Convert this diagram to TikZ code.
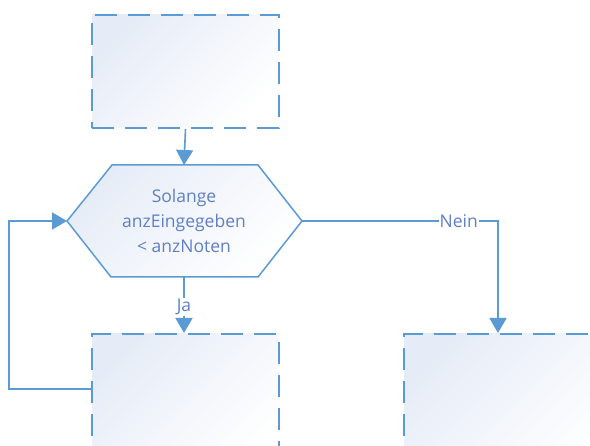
\documentclass[tikz,border=0pt]{standalone}
\usepackage{fontspec}
\setmainfont{Open Sans}
\usetikzlibrary{arrows.meta}
\definecolor{lineblue}{HTML}{5B9BD5}
\definecolor{textblue}{HTML}{5F7FC6}
\definecolor{fillblue}{HTML}{E6ECF7}
\tikzset{
  dashbox/.style={draw=lineblue, line width=2pt, dash pattern=on 22pt off 11pt,
    top color=fillblue, bottom color=white, shading angle=45,
    minimum width=187pt, minimum height=113pt, inner sep=0pt},
  conn/.style={draw=lineblue, line width=1.6pt},
  arr/.style={conn, -{Triangle[width=17pt,length=15pt]}},
  lbl/.style={fill=white, text=textblue, font=\fontsize{17.5}{20}\selectfont, inner sep=1pt},
  hextext/.style={text=textblue, font=\fontsize{17.5}{25}\selectfont, align=center}
}
\begin{document}
\begin{tikzpicture}[x=1pt,y=-1pt]
\useasboundingbox (0,0) rectangle (590,446);
\fill[white] (0,0) rectangle (590,446);
\clip (0,0) rectangle (590,446);
% top box
\node[dashbox, anchor=north west] (top) at (91,14) {};
% hexagon
\coordinate (hexL) at (67,221);
\coordinate (hexR) at (302,221);
\coordinate (hexT) at (184,165);
\coordinate (hexB) at (184,277);
\shade[top color=fillblue, bottom color=white, shading angle=45]
  (hexL) -- (112,165) -- (258,165) -- (hexR) -- (258,277) -- (111,277) -- cycle;
\draw[lineblue, line width=1.5pt, line join=miter]
  (hexL) -- (112,165) -- (258,165) -- (hexR) -- (258,277) -- (111,277) -- cycle;
\node[hextext] (cond) at (184,221) {Solange\\anzEingegeben\\< anzNoten};
% bottom left box
\node[dashbox, anchor=north west, minimum height=140pt] (bl) at (91,333) {};
% bottom right box
\node[dashbox, anchor=north west, minimum height=140pt, minimum width=220pt] (br) at (403,333) {};
\coordinate (blin) at (184,333);
\coordinate (brin) at (498,333);
\coordinate (loopout) at (91,389);
\coordinate (loopcorner) at (9,221);
% connectors
\draw[arr] (top.south) -- (hexT);
\draw[arr] (hexB) -- node[lbl, pos=0.54] {Ja} (blin);
\draw[arr] (hexR) -| node[lbl, pos=0.4] {Nein} (brin);
\draw[arr] (loopout) -| (loopcorner) -- (hexL);
\end{tikzpicture}
\end{document}
